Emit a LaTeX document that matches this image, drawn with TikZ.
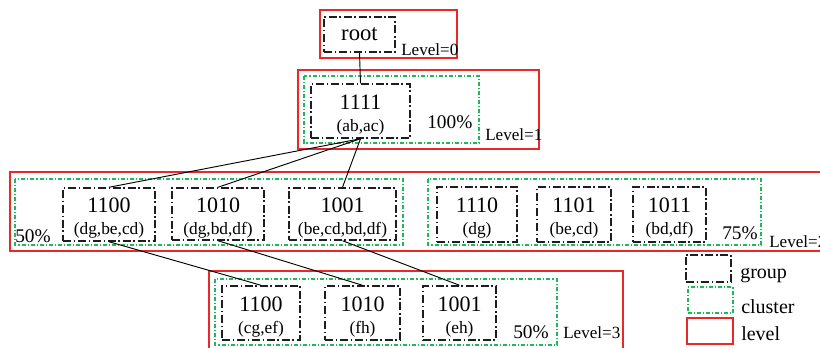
\documentclass[tikz,border=0pt]{standalone}
\usepackage{fontspec}
\setmainfont{Liberation Serif}
\definecolor{lvlred}{RGB}{235,40,40}
\definecolor{clugreen}{RGB}{30,185,90}
\definecolor{grpgray}{RGB}{30,30,30}
\begin{document}
\begin{tikzpicture}[x=0.75pt,y=-0.75pt,
  grp/.style={draw=grpgray, line width=1.1pt, rectangle, inner sep=0pt,
    dash pattern=on 6pt off 2pt on 1.2pt off 2pt},
  clu/.style={draw=clugreen, line width=0.8pt,
    dash pattern=on 3pt off 1.5pt on 0.8pt off 1.5pt},
  lvl/.style={draw=lvlred, line width=0.95pt},
  conn/.style={draw=black, line width=0.7pt},
  numtext/.style={anchor=base, inner sep=0pt, font=\fontsize{16.5}{18}\selectfont},
  labtext/.style={anchor=base, inner sep=0pt, font=\fontsize{13}{15}\selectfont},
  pct/.style={anchor=base west, inner sep=0pt, font=\fontsize{14.5}{16}\selectfont},
  lvltext/.style={anchor=base west, inner sep=0pt, font=\fontsize{12.8}{14}\selectfont},
  legtext/.style={anchor=base west, inner sep=0pt, font=\fontsize{15}{17}\selectfont}]
\useasboundingbox (0,0) rectangle (820,347);
\clip (0,0) rectangle (820,347);

% a group: dash-dotted box with its code and its pair list
\newcommand\grpnode[7]{%
  \node[grp, minimum width=#4*0.75pt, minimum height=#5*0.75pt] (#1) at (#2,#3) {};
  \node[numtext] (#1-n) at (#2,#3-2) {#6};
  \node[labtext] (#1-l) at (#2,#3+20) {#7};
}

% level frames
\draw[lvl] (320,10) rectangle (457,58);
\draw[lvl] (298,70) rectangle (539,149);
\draw[lvl] (10,172) rectangle (850,251);
\draw[lvl] (209,271) rectangle (623,370);

% clusters
\draw[clu] (304,76) rectangle (479,143);
\draw[clu] (15,179) rectangle (403,245);
\draw[clu] (428,179) rectangle (761,245);
\draw[clu] (215,279) rectangle (557,345);

% level 0
\node[grp, minimum width=71*0.75pt, minimum height=35*0.75pt,
  font=\fontsize{17}{19}\selectfont] (root) at (359.5,34.5) {root};
\node[lvltext] (lv0) at (401,55) {Level=0};

% level 1
\grpnode{g1111}{360.5}{111}{99}{54}{1111}{(ab,ac)}
\node[pct] (p1) at (427,128) {100\%};
\node[lvltext] (lv1) at (485,140) {Level=1};

% level 2
\grpnode{g1100}{109}{214.5}{92}{53}{1100}{(dg,be,cd)}
\grpnode{g1010}{218}{214}{92}{52}{1010}{(dg,bd,df)}
\grpnode{g1001}{342.5}{214}{107}{52}{1001}{(be,cd,bd,df)}
\node[pct] (p2a) at (15,242) {50\%};
\grpnode{g1110}{477}{214.5}{80}{55}{1110}{(dg)}
\grpnode{g1101}{574}{214.5}{74}{55}{1101}{(be,cd)}
\grpnode{g1011}{669.5}{214.5}{73}{55}{1011}{(bd,df)}
\node[pct] (p2b) at (722,239) {75\%};
\node[lvltext] (lv2) at (769,247) {Level=2};

% level 3
\grpnode{h1100}{261}{313}{78}{54}{1100}{(cg,ef)}
\grpnode{h1010}{362.5}{313}{75}{54}{1010}{(fh)}
\grpnode{h1001}{459.5}{313}{73}{54}{1001}{(eh)}
\node[pct] (p3) at (513,338) {50\%};
\node[lvltext] (lv3) at (563,338) {Level=3};

% connectors
\draw[conn] (root.south) -- (g1111.north);
\draw[conn] (g1111.south) -- (g1100.north);
\draw[conn] (g1111.south) -- (g1010.north);
\draw[conn] (g1111.south) -- (g1001.north);
\draw[conn] (g1100.south) -- (h1100.north);
\draw[conn] (g1010.south) -- (h1010.north);
\draw[conn] (g1001.south) -- (h1001.north);

% legend
\node[grp, minimum width=45*0.75pt, minimum height=27*0.75pt] (leggrp) at (708.5,268.5) {};
\node[legtext] (leggrpt) at (740,278) {group};
\node[clu, minimum width=45*0.75pt, minimum height=26*0.75pt, inner sep=0pt] (legclu) at (710.5,300) {};
\node[legtext] (legclut) at (741,313) {cluster};
\node[lvl, minimum width=46*0.75pt, minimum height=26*0.75pt, inner sep=0pt] (leglvl) at (710,331) {};
\node[legtext] (leglvlt) at (741,340) {level};
\end{tikzpicture}
\end{document}
